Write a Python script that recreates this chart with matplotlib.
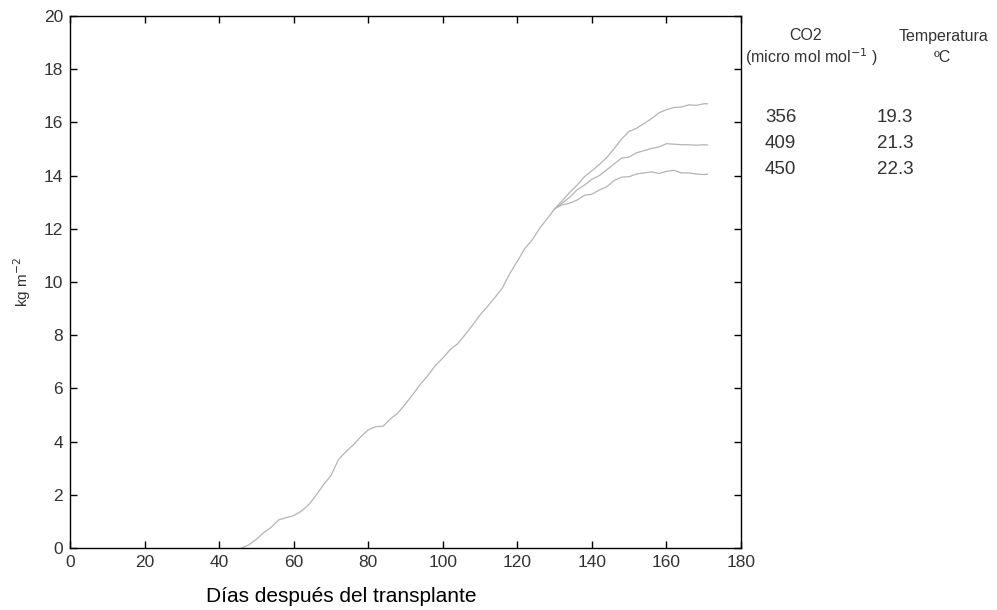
import matplotlib
matplotlib.use("AGG")
from matplotlib import pyplot as plt

plt.rcParams['font.family'] = ['Liberation Sans', 'DejaVu Sans']

# shared growth before the treatments separate
days_common = [46, 48, 50, 52, 54, 56, 58, 60, 62, 64, 66, 68, 70, 72, 74, 76, 78, 80,
               82, 84, 86, 88, 90, 92, 94, 96, 98, 100, 102, 104, 106, 108, 110, 112,
               114, 116, 118, 120, 122, 124, 126, 128, 130]
yield_common = [0.0, 0.12, 0.33, 0.58, 0.78, 1.06, 1.14, 1.22, 1.38, 1.62, 1.98, 2.38,
                2.72, 3.32, 3.62, 3.88, 4.18, 4.44, 4.56, 4.58, 4.86, 5.08, 5.42, 5.78,
                6.16, 6.48, 6.86, 7.14, 7.46, 7.68, 8.02, 8.38, 8.76, 9.08, 9.42, 9.78,
                10.32, 10.78, 11.26, 11.58, 12.02, 12.38, 12.75]

days_late = [130, 132, 134, 136, 138, 140, 142, 144, 146, 148, 150, 152, 154, 156, 158,
             160, 162, 164, 166, 168, 170, 171]
yield_356 = [12.75, 13.05, 13.36, 13.64, 13.96, 14.18, 14.42, 14.68, 15.02, 15.38, 15.66,
             15.78, 15.96, 16.14, 16.36, 16.48, 16.56, 16.58, 16.66, 16.64, 16.70, 16.70]
yield_409 = [12.75, 12.96, 13.18, 13.46, 13.64, 13.86, 14.0, 14.22, 14.44, 14.66, 14.70,
             14.86, 14.94, 15.02, 15.08, 15.20, 15.18, 15.16, 15.16, 15.14, 15.16, 15.15]
yield_450 = [12.75, 12.90, 12.96, 13.08, 13.26, 13.30, 13.46, 13.58, 13.82, 13.94, 13.96,
             14.06, 14.10, 14.14, 14.08, 14.16, 14.20, 14.10, 14.10, 14.06, 14.04, 14.05]

co2_levels = ["356", "409", "450"]
temperatures = ["19.3", "21.3", "22.3"]

fig = plt.figure(figsize=(9.97, 6.10), dpi=100)
ax = fig.add_axes([70 / 997, 1 - 548 / 610, 671 / 997, 532 / 610])

line_kw = dict(color="#b4b4b4", lw=0.9)
ax.plot(days_common, yield_common, **line_kw)
for series in (yield_356, yield_409, yield_450):
    ax.plot(days_late, series, **line_kw)

ax.set_xlim(0, 180)
ax.set_ylim(0, 20)
ax.set_xticks(range(0, 181, 20))
ax.set_yticks(range(0, 21, 2))
ax.tick_params(direction="in", length=5, width=1, top=True, right=True,
               labelsize=12.5, labelcolor="#333333", pad=5)
for sp in ax.spines.values():
    sp.set_linewidth(1.0)

ax.set_ylabel("kg m$^{-2}$", fontsize=11, color="#333333", labelpad=8)
fig.text(341 / 997, 1 - 597 / 610, "Días después del transplante", fontsize=15,
         ha="center", va="center")

# treatment table on the right
hdr = dict(fontsize=11.5, ha="center", va="center", color="#333333")
fig.text(806 / 997, 1 - 36 / 610, "CO2", **hdr)
fig.text(811 / 997, 1 - 57 / 610, "(micro mol mol$^{-1}$ )", **hdr)
fig.text(943 / 997, 1 - 36 / 610, "Temperatura", **hdr)
fig.text(942 / 997, 1 - 57 / 610, "ºC", **hdr)
for i, (c, t) in enumerate(zip(co2_levels, temperatures)):
    y = 1 - (118 + 25.5 * i) / 610
    fig.text(765 / 997, y, c, fontsize=13.5, ha="left", va="center", color="#333333")
    fig.text(877 / 997, y, t, fontsize=13.5, ha="left", va="center", color="#333333")

plt.savefig("out.png", dpi=100)
